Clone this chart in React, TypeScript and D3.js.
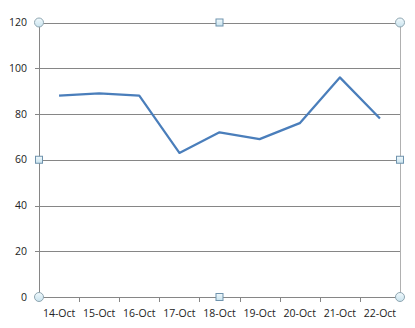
import React from "react";
import * as d3 from "d3";

const categories = ["14-Oct", "15-Oct", "16-Oct", "17-Oct", "18-Oct", "19-Oct", "20-Oct", "21-Oct", "22-Oct"];
const values = [88, 89, 88, 63, 72, 69, 76, 96, 78];
const yTicks = [0, 20, 40, 60, 80, 100, 120];

const W = 415, H = 328;
const L = 39, R = 400, T = 22.5, B = 297;

export default function App() {
  const x = d3.scaleBand<string>().domain(categories).range([L, R]).padding(0);
  const y = d3.scaleLinear().domain([0, 120]).range([B, T]);
  const line = d3.line<number>()
    .x((_, i) => (x(categories[i]) as number) + x.bandwidth() / 2)
    .y((d) => y(d));
  const font = "'Open Sans', sans-serif";
  const gridColor = "#868686";
  const circ = (cx: number, cy: number, k: string) => (
    <circle key={k} cx={cx} cy={cy} r={4.5} fill="url(#hg)" stroke="#8fa6b1" strokeWidth={1} />
  );
  const sq = (cx: number, cy: number, k: string) => (
    <rect key={k} x={cx - 3.5} y={cy - 3.5} width={7} height={7} fill="url(#hg)" stroke="#6f93ad" strokeWidth={1} />
  );
  const midX = (L + R) / 2;
  const midY = (T + B) / 2;
  return (
    <svg width={W} height={H} style={{ position: "absolute", left: 0, top: 0, background: "#fff" }}>
      <defs>
        <linearGradient id="hg" x1="0" y1="0" x2="0" y2="1">
          <stop offset="0" stopColor="#f2fafd" />
          <stop offset="1" stopColor="#c9e3ee" />
        </linearGradient>
      </defs>
      {yTicks.map((t) => (
        <g key={t}>
          <line x1={L - 4} x2={R} y1={Math.round(y(t)) + 0.5} y2={Math.round(y(t)) + 0.5} stroke={gridColor} strokeWidth={1} />
          <text x={27} y={y(t)} dy="0.35em" textAnchor="end" fontFamily={font} fontSize={10.5} fill="#222">{t}</text>
        </g>
      ))}
      <line x1={R + 0.5} x2={R + 0.5} y1={T} y2={B} stroke="#b0b0b0" strokeWidth={1} />
      <line x1={L + 0.5} x2={L + 0.5} y1={T} y2={B} stroke={gridColor} strokeWidth={1} />
      {categories.map((c, i) => (
        <g key={c}>
          {i > 0 && (
            <line x1={Math.round(x(c) as number) + 0.5} x2={Math.round(x(c) as number) + 0.5} y1={B} y2={B + 5} stroke={gridColor} strokeWidth={1} />
          )}
          <text x={(x(c) as number) + x.bandwidth() / 2} y={B + 16} dy="0.35em" textAnchor="middle" fontFamily={font} fontSize={10.5} fill="#222">{c}</text>
        </g>
      ))}
      <path d={line(values) || ""} fill="none" stroke="#4a7ebb" strokeWidth={2.25} strokeLinejoin="round" />
      {circ(L, T, "c1")}
      {circ(R, T, "c2")}
      {circ(L, B, "c3")}
      {circ(R, B, "c4")}
      {sq(midX, T, "s1")}
      {sq(L, midY, "s2")}
      {sq(R, midY, "s3")}
      {sq(midX, B, "s4")}
    </svg>
  );
}
